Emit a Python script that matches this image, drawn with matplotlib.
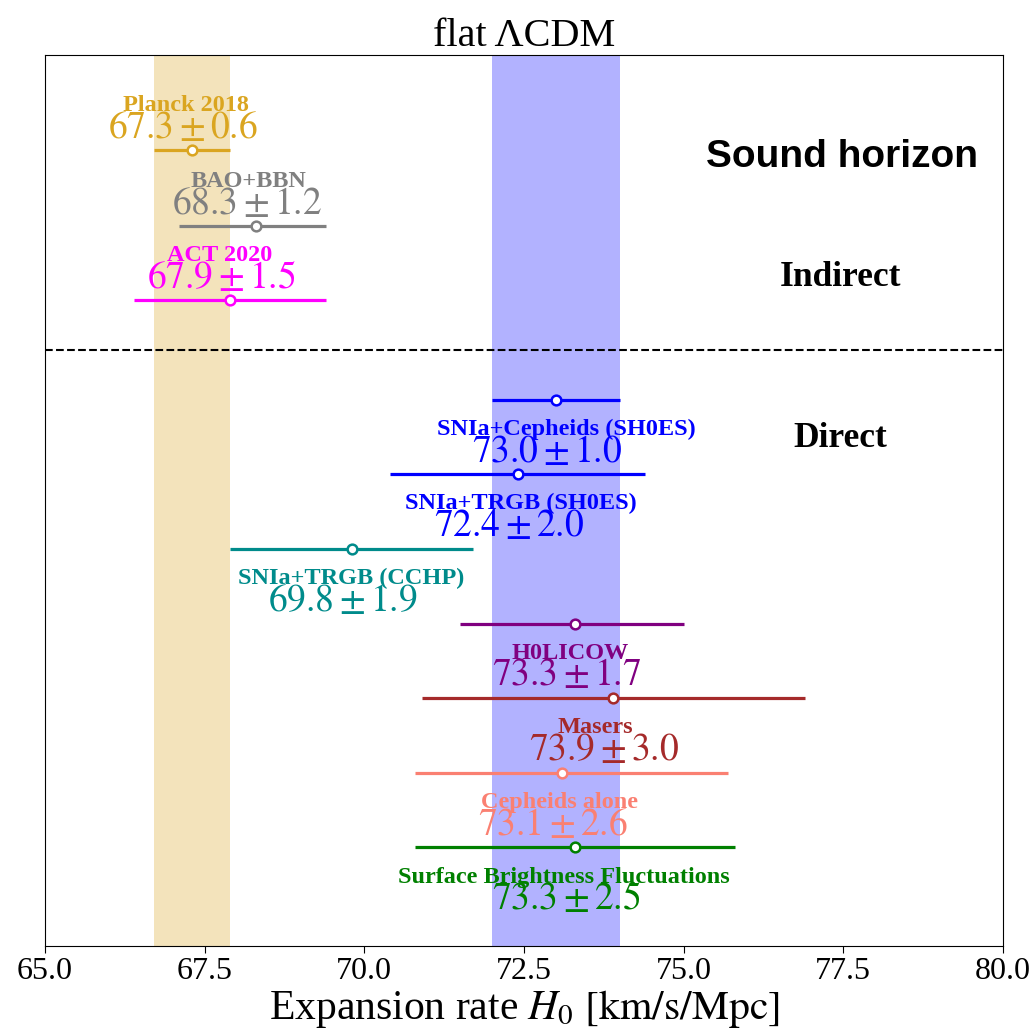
import numpy as np
import matplotlib.pyplot as plt

plt.rcParams['font.family'] = ['Liberation Serif', 'DejaVu Serif']
plt.rcParams['mathtext.fontset'] = 'stix'

# measurements, bottom to top on the plot
names = ['Surface Brightness Fluctuations', 'Cepheids alone', 'Masers', 'H0LICOW',
         'SNIa+TRGB (CCHP)', 'SNIa+TRGB (SH0ES)', 'SNIa+Cepheids (SH0ES)',
         'ACT 2020', 'BAO+BBN', 'Planck 2018']
h0 = [73.3, 73.1, 73.9, 73.3, 69.8, 72.4, 73.0, 67.9, 68.3, 67.3]
err_lo = [2.5, 2.3, 3.0, 1.8, 1.9, 2.0, 1.0, 1.5, 1.2, 0.6]
err_hi = [2.5, 2.6, 3.0, 1.7, 1.9, 2.0, 1.0, 1.5, 1.1, 0.6]
quoted = ['73.3 \\pm 2.5', '73.1 \\pm 2.6', '73.9 \\pm 3.0', '73.3 \\pm 1.7',
          '69.8 \\pm 1.9', '72.4 \\pm 2.0', '73.0 \\pm 1.0',
          '67.9 \\pm 1.5', '68.3 \\pm 1.2', '67.3 \\pm 0.6']
colors = ['green', 'salmon', 'brown', 'purple', 'darkcyan', 'blue', 'blue',
          'magenta', 'gray', 'goldenrod']
ypos = [1, 2, 3, 4, 5, 6, 7, 8.33, 9.32, 10.34]
indirect = [False]*7 + [True]*3

# small nudges of the name labels (data units)
name_dx = [-0.17, -0.05, -0.28, -0.08, 0.0, 0.05, 0.16, -0.16, -0.11, -0.1]

fig = plt.figure(figsize=(10.36, 10.29), dpi=100)
ax = fig.add_axes([0.0434, 0.0811, 0.9247, 0.8655])

# reference bands: Planck and SH0ES
ax.axvspan(67.3 - 0.6, 67.3 + 0.6, color='goldenrod', alpha=0.3, lw=0, zorder=0)
ax.axvspan(73.0 - 1.0, 73.0 + 1.0, color='blue', alpha=0.3, lw=0, zorder=0)

for i in range(len(names)):
    c = colors[i]
    ax.errorbar(h0[i], ypos[i], xerr=[[err_lo[i]], [err_hi[i]]], fmt='o',
                color=c, ecolor=c, elinewidth=2.3, capsize=0,
                markersize=7, markerfacecolor='white', markeredgecolor=c,
                markeredgewidth=1.8, zorder=3)
    if indirect[i]:
        dy_name, dy_val = 0.53, 0.16
    else:
        dy_name, dy_val = -0.47, -0.83
    ax.text(h0[i] + name_dx[i], ypos[i] + dy_name, names[i], color=c,
            fontsize=17.5, fontweight='bold', ha='center', va='baseline')
    ax.text(h0[i] - 0.14, ypos[i] + dy_val, '$' + quoted[i] + '$', color=c,
            fontsize=27, ha='center', va='baseline')

ax.axhline(7.66, color='black', ls='--', lw=1.5)

ax.text(77.48, 10.25, 'Sound horizon', fontsize=28, fontweight='bold',
        family='Liberation Sans', ha='center', va='center')
ax.text(77.45, 8.63, 'Indirect', fontsize=25.5, fontweight='bold', ha='center', va='center')
ax.text(77.45, 6.48, 'Direct', fontsize=25.5, fontweight='bold', ha='center', va='center')

ax.set_xlim(65, 80)
ax.set_ylim(-0.314, 11.617)
ax.set_yticks([])
ax.set_xticks(np.arange(65, 80.1, 2.5))
ax.set_xticklabels(['%.1f' % v for v in np.arange(65, 80.1, 2.5)])
ax.tick_params(axis='x', labelsize=23, length=5)
ax.set_xlabel('Expansion rate $H_0$ $[\\mathrm{km/s/Mpc}]$', fontsize=30, labelpad=1)
ax.set_title('flat ΛCDM', fontsize=29, pad=6)

plt.savefig('out.png', dpi=100)
